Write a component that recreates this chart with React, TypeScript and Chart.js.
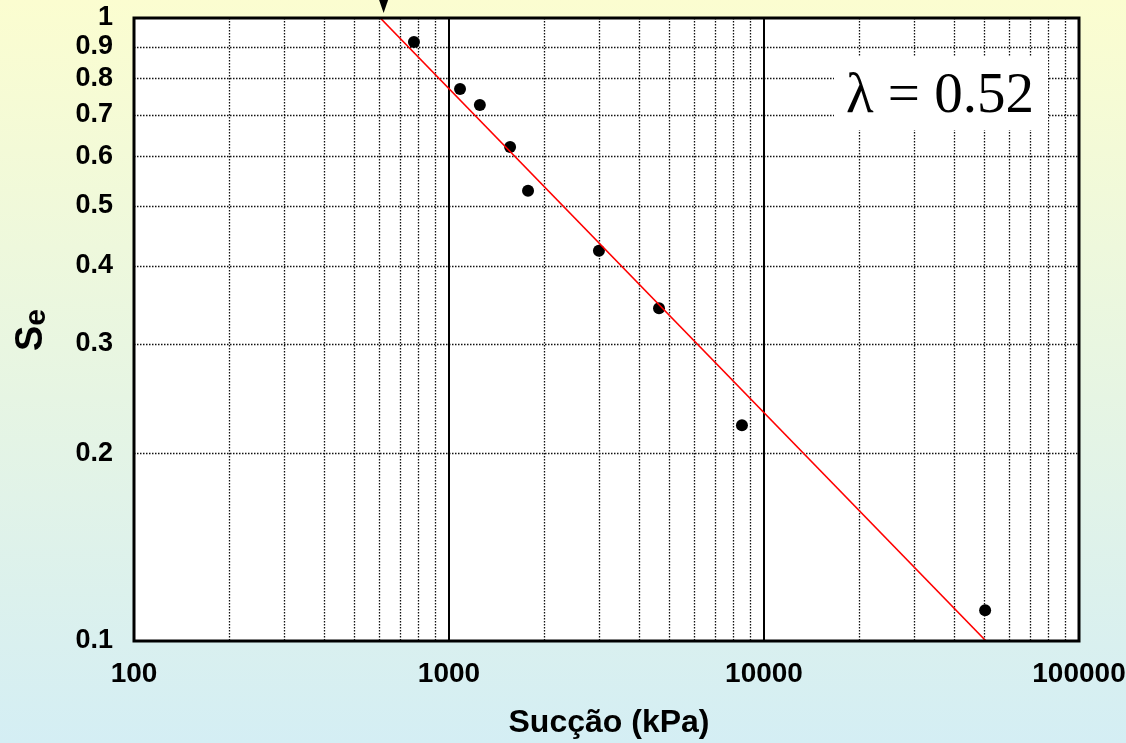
import { useEffect, useRef } from "react";
import { Chart, registerables } from "chart.js";

Chart.register(...registerables);

// Measured points: suction (kPa) vs effective saturation
const suction = [774, 1084, 1253, 1563, 1782, 2992, 4642, 8511, 50350];
const saturation = [0.915, 0.769, 0.725, 0.621, 0.528, 0.423, 0.342, 0.222, 0.112];

// Brooks & Corey fit: Se = (psiB / psi)^lambda
const lambda = 0.52;
const airEntry = 605;
const arrowAt = 620;

const xTicks = [100, 1000, 10000, 100000];
const yTicks = [0.1, 0.2, 0.3, 0.4, 0.5, 0.6, 0.7, 0.8, 0.9, 1];
const xMajor = [1000, 10000];

const W = 1126;
const H = 743;
const FONT = "'Liberation Sans', Arial, sans-serif";

const decorPlugin = {
  id: "decor",
  beforeDraw(chart: any) {
    const { ctx, chartArea: a } = chart;
    ctx.save();
    const g = ctx.createLinearGradient(0, 0, 0, H);
    g.addColorStop(0, "#FBFDD0");
    g.addColorStop(1, "#D4EEF4");
    ctx.fillStyle = g;
    ctx.fillRect(0, 0, W, H);
    ctx.fillStyle = "#ffffff";
    ctx.fillRect(a.left, a.top, a.right - a.left, a.bottom - a.top);
    ctx.restore();
  },
  beforeDatasetsDraw(chart: any) {
    const { ctx, chartArea: a, scales } = chart;
    const xs = scales.x;
    const ys = scales.y;
    ctx.save();
    // minor dotted grid
    ctx.strokeStyle = "#111";
    ctx.lineWidth = 1.3;
    ctx.setLineDash([1.5, 1.5]);
    for (let d = 100; d < 100000; d *= 10) {
      for (let m = 2; m <= 9; m++) {
        const px = Math.round(xs.getPixelForValue(d * m)) + 0.5;
        ctx.beginPath();
        ctx.moveTo(px, a.top);
        ctx.lineTo(px, a.bottom);
        ctx.stroke();
      }
    }
    for (let m = 2; m <= 9; m++) {
      const py = Math.round(ys.getPixelForValue(m / 10)) + 0.5;
      ctx.beginPath();
      ctx.moveTo(a.left, py);
      ctx.lineTo(a.right, py);
      ctx.stroke();
    }
    // solid decade lines
    ctx.setLineDash([]);
    ctx.strokeStyle = "#000";
    ctx.lineWidth = 2;
    xMajor.forEach((v) => {
      const px = Math.round(xs.getPixelForValue(v));
      ctx.beginPath();
      ctx.moveTo(px, a.top);
      ctx.lineTo(px, a.bottom);
      ctx.stroke();
    });
    // fit parameter box
    ctx.fillStyle = "#ffffff";
    ctx.fillRect(834, 56, 214, 74);
    ctx.fillStyle = "#000";
    ctx.font = "57px 'Liberation Serif', 'Times New Roman', serif";
    ctx.textAlign = "center";
    ctx.textBaseline = "alphabetic";
    ctx.fillText(`λ = ${lambda.toFixed(2)}`, 940, 112);
    ctx.restore();
  },
  afterDatasetsDraw(chart: any) {
    const { ctx, chartArea: a, scales } = chart;
    ctx.save();
    // plot frame
    ctx.strokeStyle = "#000";
    ctx.lineWidth = 3;
    ctx.setLineDash([]);
    ctx.strokeRect(a.left, a.top, a.right - a.left, a.bottom - a.top);
    // air-entry arrow
    const ax = scales.x.getPixelForValue(arrowAt);
    ctx.fillStyle = "#000";
    ctx.beginPath();
    ctx.moveTo(ax - 4.5, 0);
    ctx.lineTo(ax + 4.5, 0);
    ctx.lineTo(ax, 13);
    ctx.closePath();
    ctx.fill();
    // axis titles
    ctx.fillStyle = "#000";
    ctx.font = `bold 32px ${FONT}`;
    ctx.textAlign = "center";
    ctx.textBaseline = "alphabetic";
    ctx.fillText("Sucção (kPa)", 609, 732);

    ctx.translate(42, 330);
    ctx.rotate(-Math.PI / 2);
    ctx.textAlign = "left";
    ctx.font = `bold 38px ${FONT}`;
    const sw = ctx.measureText("S").width;
    ctx.font = `bold 30px ${FONT}`;
    const ew = ctx.measureText("e").width;
    const start = -(sw + ew) / 2;
    ctx.font = `bold 38px ${FONT}`;
    ctx.fillText("S", start, 0);
    ctx.font = `bold 30px ${FONT}`;
    ctx.fillText("e", start + sw, 3);
    ctx.restore();
  },
};

export default function App() {
  const ref = useRef<HTMLCanvasElement | null>(null);

  useEffect(() => {
    document.body.style.margin = "0";
    const canvas = ref.current;
    if (!canvas) return;
    const points = suction.map((x, i) => ({ x, y: saturation[i] }));
    const fitLine = [
      { x: airEntry, y: 1 },
      { x: airEntry * Math.pow(10, 1 / lambda), y: 0.1 },
    ];
    const chart = new Chart(canvas, {
      type: "scatter",
      data: {
        datasets: [
          {
            data: fitLine,
            showLine: true,
            borderColor: "#ff0000",
            borderWidth: 1.6,
            pointRadius: 0,
            fill: false,
          },
          {
            data: points,
            backgroundColor: "#000",
            borderColor: "#000",
            pointRadius: 6,
            borderWidth: 0,
          },
        ],
      },
      options: {
        responsive: false,
        devicePixelRatio: 1,
        animation: false,
        layout: { padding: { top: 18, right: 47, left: 0, bottom: 0 } },
        plugins: {
          legend: { display: false },
          tooltip: { enabled: false },
        },
        scales: {
          x: {
            type: "logarithmic",
            min: 100,
            max: 100000,
            grid: { display: false, drawTicks: false },
            border: { display: false },
            afterBuildTicks: (s: any) => {
              s.ticks = xTicks.map((v) => ({ value: v }));
            },
            afterFit: (s: any) => {
              s.height = 102;
              s.paddingLeft = 0;
              s.paddingRight = 0;
            },
            ticks: {
              autoSkip: false,
              maxRotation: 0,
              padding: 16,
              color: "#000",
              font: { family: FONT, size: 28, weight: "bold" },
              callback: (v: any) => String(v),
            },
          },
          y: {
            type: "logarithmic",
            min: 0.1,
            max: 1,
            grid: { display: false, drawTicks: false },
            border: { display: false },
            afterBuildTicks: (s: any) => {
              s.ticks = yTicks.map((v) => ({ value: v }));
            },
            afterFit: (s: any) => {
              s.width = 134;
              s.paddingTop = 0;
              s.paddingBottom = 0;
            },
            ticks: {
              autoSkip: false,
              padding: 21,
              color: "#000",
              font: { family: FONT, size: 27, weight: "bold" },
              callback: (v: any) => String(v),
            },
          },
        },
      },
      plugins: [decorPlugin],
    } as any);
    return () => chart.destroy();
  }, []);

  return (
    <div style={{ width: W, height: H }}>
      <canvas ref={ref} width={W} height={H} style={{ display: "block" }} />
    </div>
  );
}
